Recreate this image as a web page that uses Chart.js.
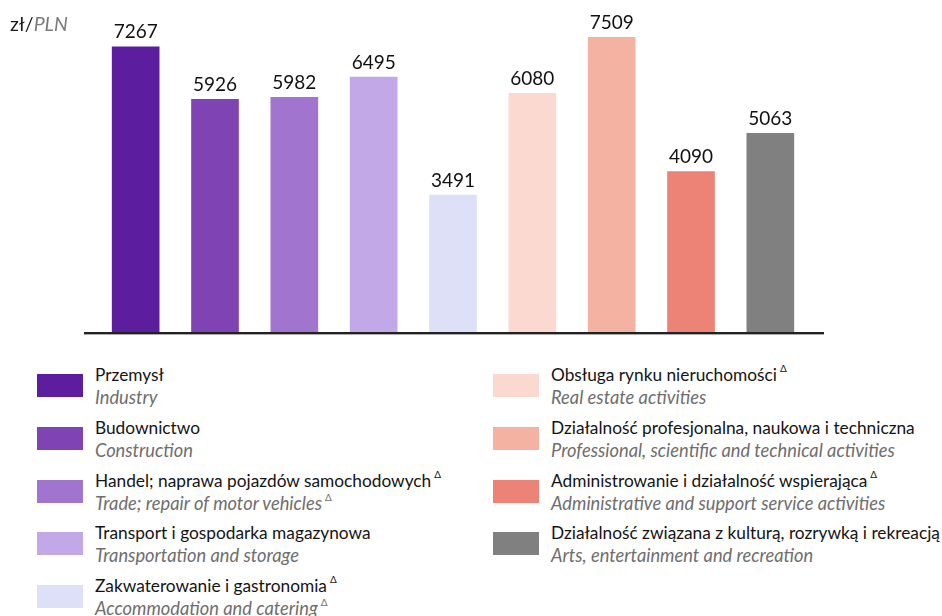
<!DOCTYPE html>
<html lang="pl">
<head>
<meta charset="utf-8">
<title>Przeciętne wynagrodzenie według sekcji</title>
<script src="https://cdn.jsdelivr.net/npm/chart.js@4"></script>
<style>
  html, body { margin: 0; padding: 0; background: #fff; }
  body { width: 942px; height: 616px; position: relative; overflow: hidden; font-family: "Lato", "Open Sans", sans-serif; }
  #wrap { position: absolute; left: 0; top: 0; width: 942px; height: 345px; }
  .unit { position: absolute; left: 10px; top: 12px; font-size: 19.5px; color: #1a1a1a; }
  .unit i { color: #7a7a7a; }
  .legend { position: absolute; top: 0; left: 0; }
  .item { position: absolute; }
  .item .sw { position: absolute; width: 46px; height: 23px; }
  .item .pl { position: absolute; left: 58px; top: -10px; white-space: nowrap; font-size: 17.3px; color: #141414; line-height: 22px; }
  .item .en { position: absolute; left: 58px; top: 12px; white-space: nowrap; font-size: 18.3px; color: #6e6e6e; font-style: italic; line-height: 22px; }
  sup { font-size: 10px; line-height: 0; vertical-align: baseline; position: relative; top: -9px; margin-left: 3px; font-style: normal; }
</style>
</head>
<body>
<div id="wrap">
  <canvas id="wynagrodzeniaChart" width="942" height="345"></canvas>
  <div class="unit">zł/<i>PLN</i></div>
</div>
<div class="legend" id="legend"></div>

<script>
const sekcje = [
    'Przemysł',
    'Budownictwo',
    'Handel; naprawa pojazdów samochodowych',
    'Transport i gospodarka magazynowa',
    'Zakwaterowanie i gastronomia',
    'Obsługa rynku nieruchomości',
    'Działalność profesjonalna, naukowa i techniczna',
    'Administrowanie i działalność wspierająca',
    'Działalność związana z kulturą, rozrywką i rekreacją'
];
const sekcjeEn = [
    'Industry',
    'Construction',
    'Trade; repair of motor vehicles',
    'Transportation and storage',
    'Accommodation and catering',
    'Real estate activities',
    'Professional, scientific and technical activities',
    'Administrative and support service activities',
    'Arts, entertainment and recreation'
];
// sekcje oznaczone trójkątem (Δ)
const delta = [false, false, true, false, true, true, false, true, false];
const deltaEn = [false, false, true, false, true, false, false, false, false];
const wynagrodzenia = [7267, 5926, 5982, 6495, 3491, 6080, 7509, 4090, 5063];
const kolory = ['#5c1e9f', '#7f43b4', '#a175cf', '#c2a8e6', '#dee0f7', '#fbd9d0', '#f4b2a2', '#ec8376', '#808080'];

// etykiety wartości nad słupkami + linia osi
const wartosciPlugin = {
    id: 'wartosci',
    afterDatasetsDraw(chart) {
        const c = chart.ctx;
        const area = chart.chartArea;
        c.save();
        c.strokeStyle = '#aaaaaa';
        c.lineWidth = 1;
        c.beginPath();
        c.moveTo(area.left - 12, area.bottom + 2.5);
        c.lineTo(area.right + 14, area.bottom + 2.5);
        c.stroke();
        c.strokeStyle = '#222222';
        c.lineWidth = 2;
        c.beginPath();
        c.moveTo(area.left - 12, area.bottom + 1);
        c.lineTo(area.right + 14, area.bottom + 1);
        c.stroke();

        c.fillStyle = '#111';
        c.font = '19px "Lato", "Open Sans", sans-serif';
        c.textAlign = 'center';
        c.textBaseline = 'bottom';
        chart.getDatasetMeta(0).data.forEach(function (bar, i) {
            c.fillText(String(wynagrodzenia[i]), bar.x, bar.y - 5);
        });
        c.restore();
    }
};

document.addEventListener('DOMContentLoaded', function () {
    const ctx = document.getElementById('wynagrodzeniaChart');
    new Chart(ctx, {
        type: 'bar',
        data: {
            labels: sekcje,
            datasets: [{
                data: wynagrodzenia,
                backgroundColor: kolory,
                borderWidth: 0,
                barThickness: 47
            }]
        },
        options: {
            responsive: false,
            animation: false,
            layout: {
                padding: { left: 96, right: 132, top: 18, bottom: 13 }
            },
            plugins: {
                legend: { display: false },
                tooltip: { enabled: false }
            },
            scales: {
                x: { display: false },
                y: { display: false, min: 0, max: 8000 }
            }
        },
        plugins: [wartosciPlugin]
    });

    // legenda w dwóch kolumnach
    const legend = document.getElementById('legend');
    sekcje.forEach(function (nazwa, i) {
        const kol = i < 5 ? 0 : 1;
        const wiersz = kol === 0 ? i : i - 5;
        const item = document.createElement('div');
        item.className = 'item';
        item.style.left = (kol === 0 ? 37 : 493) + 'px';
        item.style.top = (374 + wiersz * 52.8) + 'px';
        item.innerHTML =
            '<div class="sw" style="background:' + kolory[i] + '"></div>' +
            '<div class="pl">' + nazwa + (delta[i] ? '<sup>Δ</sup>' : '') + '</div>' +
            '<div class="en">' + sekcjeEn[i] + (deltaEn[i] ? '<sup>Δ</sup>' : '') + '</div>';
        legend.appendChild(item);
    });
});
</script>
</body>
</html>
